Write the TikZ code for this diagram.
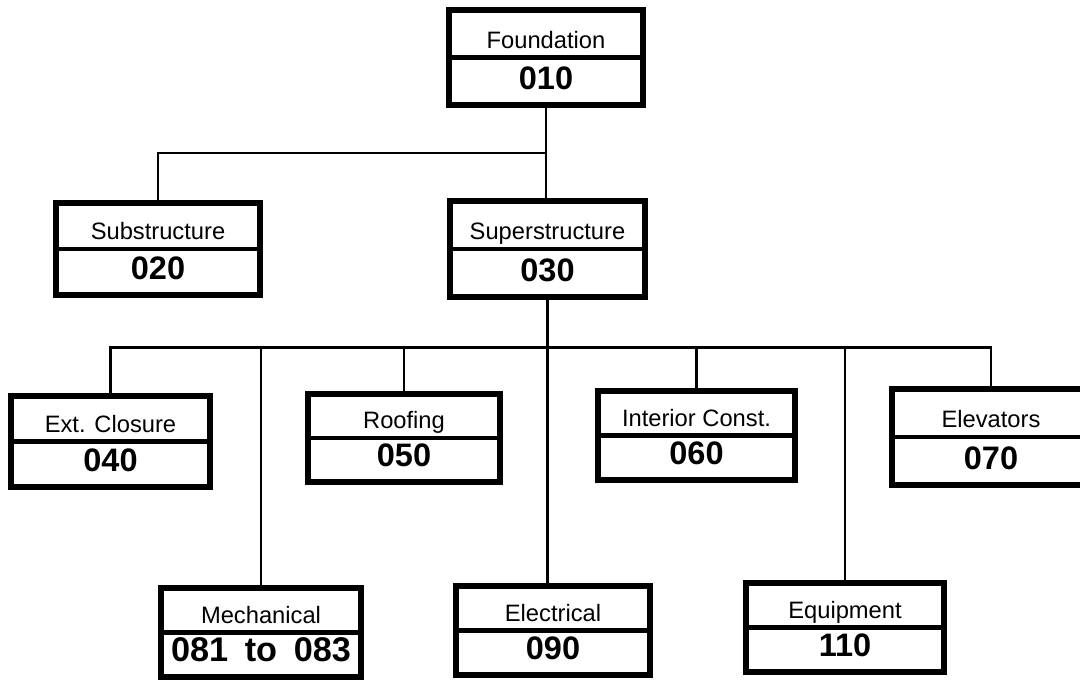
\documentclass[tikz,border=0pt]{standalone}
\usepackage{fontspec}
\setmainfont{Liberation Sans}
\usetikzlibrary{calc}

\tikzset{
  frame/.style={draw, line width=3.4pt},
  split/.style={line width=2.8pt},
  link/.style={line width=1.7pt},
  lbl/.style={anchor=base, inner sep=0pt, font=\fontsize{13.5}{16}\selectfont},
  code/.style={anchor=base, inner sep=0pt, font=\fontsize{18.5}{22}\selectfont\bfseries}
}

% box: name, x, y, outer width, outer height, label, code (pixels)
\newcommand{\wbsbox}[7]{%
  \node[frame, minimum width={(#4-6)*0.02cm}, minimum height={(#5-6)*0.02cm}] (#1) at (#2,#3) {};
  \draw[split] (#1.west) -- (#1.east);
  \node[lbl] (#1-name) at ($(#1.center)+(0,-9)$) {#6};
  \node[code] (#1-code) at ($(#1.south)+(0,-18)$) {#7};
}

\begin{document}
\begin{tikzpicture}[x=0.02cm, y=-0.02cm]
\useasboundingbox (0,0) rectangle (1080,685);

% levels 1 and 2
\wbsbox{found}{546}{57.5}{200}{101}{Foundation}{010}
\wbsbox{sub}{158}{249}{210}{98}{Substructure}{020}
\wbsbox{super}{547.5}{249}{201}{102}{Superstructure}{030}

% level 3, upper row
\wbsbox{ext}{110.5}{441.5}{205}{97}{Ext. Closure}{040}
\wbsbox{roof}{404}{438}{198}{94}{Roofing}{050}
\wbsbox{inter}{696.5}{435.5}{203}{95}{Interior Const.}{060}
\wbsbox{elev}{991}{437}{204}{102}{Elevators}{070}

% level 3, lower row
\wbsbox{mech}{261}{632.5}{206}{95}{Mechanical}{\fontsize{19.5}{23}\selectfont\makebox[3.6cm][s]{081 to 083}}
\wbsbox{elec}{553}{630.5}{200}{95}{Electrical}{090}
\wbsbox{equip}{845}{627.5}{204}{95}{Equipment}{110}

% connectors
\coordinate (top bus) at ($(found.south)!0.5!(super.north)$);
\draw[link] (found.south) -- (found.south |- super.north);
\draw[link] (sub.north) |- (top bus);

\coordinate (low bus) at ($(super.south)+(0,48)$);
\draw[link] (super.south) -- (super.south |- elec.north);
\draw[link] (ext.north) |- (low bus) -| (elev.north);
\foreach \n in {mech, roof, inter, equip}
  \draw[link] (\n.north) -- (\n.north |- low bus);
\end{tikzpicture}
\end{document}
